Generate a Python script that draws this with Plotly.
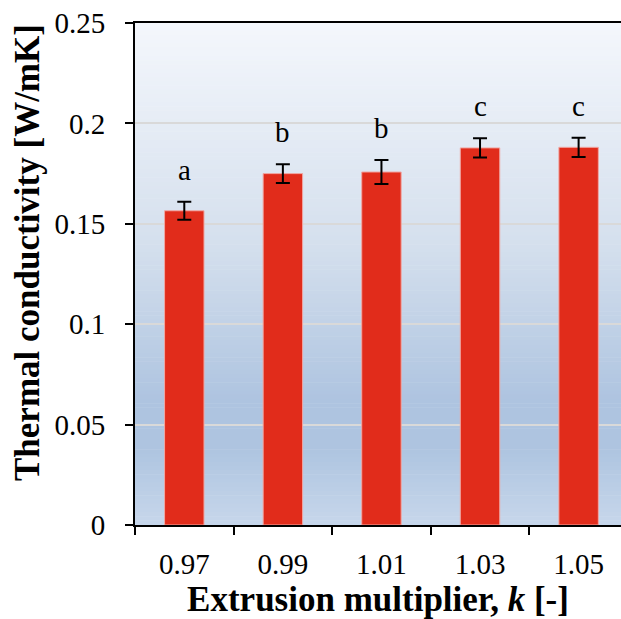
import plotly.graph_objects as go

categories = ["0.97", "0.99", "1.01", "1.03", "1.05"]
conductivity = [0.1565, 0.1750, 0.1758, 0.1878, 0.1881]
errors = [0.0045, 0.0047, 0.0060, 0.0048, 0.0048]
letters = ["a", "b", "b", "c", "c"]
y_ticks = [0, 0.05, 0.1, 0.15, 0.2, 0.25]
y_tick_labels = ["0", "0.05", "0.1", "0.15", "0.2", "0.25"]

FONT = "Liberation Serif"

fig = go.Figure()
fig.add_trace(go.Bar(
    x=categories, y=conductivity, width=0.4,
    marker=dict(color="#e12c1b", line=dict(color="#f0a8a4", width=1)),
    error_y=dict(type="data", array=errors, visible=True, color="black",
                 thickness=2, width=7),
    showlegend=False,
))

for i, (v, e, t) in enumerate(zip(conductivity, errors, letters)):
    fig.add_annotation(x=i, y=v + e, text=t, showarrow=False,
                       yanchor="middle", yshift=32,
                       font=dict(family=FONT, size=29, color="black"))

fig.add_annotation(xref="paper", yref="paper", x=-0.22, y=0.542,
                   text="<b>Thermal conductivity [W/mK]</b>", textangle=-90,
                   showarrow=False, xanchor="center", yanchor="middle",
                   font=dict(family=FONT, size=35, color="black"))

# gradient background
stops = [(0.0, (244, 247, 252)), (0.45, (212, 223, 237)), (0.75, (174, 196, 224)),
         (0.85, (174, 196, 224)), (1.0, (199, 215, 235))]
N = 120
for i in range(N):
    f0 = i / N
    f1 = (i + 1) / N
    fm = (f0 + f1) / 2
    for j in range(len(stops) - 1):
        if stops[j][0] <= fm <= stops[j + 1][0]:
            a, ca = stops[j]
            b, cb = stops[j + 1]
            t = (fm - a) / (b - a)
            col = tuple(round(ca[k] + (cb[k] - ca[k]) * t) for k in range(3))
            break
    fig.add_shape(type="rect", xref="x domain", yref="y domain",
                  x0=0, x1=1, y0=1 - f1, y1=1 - f0 + 0.001,
                  fillcolor="rgb(%d,%d,%d)" % col, line=dict(width=0), layer="below")

fig.update_layout(
    width=621, height=619,
    margin=dict(l=135, r=0, t=23, b=94),
    paper_bgcolor="white", plot_bgcolor="rgba(0,0,0,0)",
    font=dict(family=FONT, size=29, color="black"),
    bargap=0.6,
)
fig.update_xaxes(
    type="category", range=[-0.5, 4.43],
    showline=True, linecolor="black", linewidth=2, mirror=True,
    ticks="outside", ticklen=8, tickwidth=2, tickcolor="black",
    tickson="boundaries", showgrid=False,
    tickfont=dict(family=FONT, size=29), ticklabelstandoff=12,
    title=dict(text="<b>Extrusion multiplier, <i>k</i> [-]</b>",
               font=dict(family=FONT, size=35), standoff=4),
)
fig.update_yaxes(
    range=[0, 0.25], tickvals=y_ticks, ticktext=y_tick_labels,
    showline=True, linecolor="black", linewidth=2,
    ticks="outside", ticklen=8, tickwidth=2, tickcolor="black",
    showgrid=True, gridcolor="#d9d9d9", gridwidth=2, zeroline=False,
    tickfont=dict(family=FONT, size=29), ticklabelstandoff=14,
)

fig.write_html("out.html")
